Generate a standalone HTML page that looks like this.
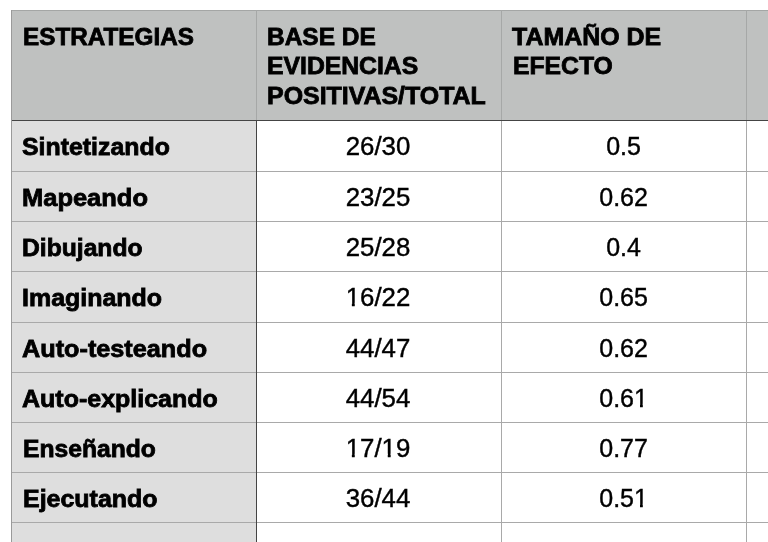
<!DOCTYPE html>
<html><head><meta charset="utf-8">
<style>
html,body{margin:0;padding:0;background:#fff;}
body{width:768px;height:542px;position:relative;overflow:hidden;font-family:"Liberation Sans",sans-serif;color:#000;}
.a{position:absolute;}
.hd{background:#bfc1c0;}
.c1{background:#dedede;}
.hl{left:11px;width:757px;height:1px;background:#a9a9a9;}
.t{position:absolute;white-space:nowrap;font-size:25px;line-height:30px;transform-origin:0 0;}
.b{font-weight:bold;font-size:24.0px;-webkit-text-stroke:0.8px #000;}
.r{font-size:25px;-webkit-text-stroke:0.4px #000;}
.ctr{text-align:center;transform-origin:50% 0;}
.o{display:inline-block;clip-path:polygon(0 0,100% 0,100% 69.5%,63% 69.5%,63% 100%,43.2% 100%,43.2% 69.5%,0 69.5%);}
</style></head><body>
<div class="a hd" style="left:11px;top:10px;width:757px;height:110px;"></div>
<div class="a c1" style="left:11px;top:121px;width:245px;height:421px;"></div>
<div class="a" style="left:11px;top:10px;width:757px;height:1px;background:#a4a6a5;"></div>
<div class="a" style="left:11px;top:120px;width:757px;height:1px;background:#444444;"></div>
<div class="a hl" style="top:171px;"></div>
<div class="a hl" style="top:221px;"></div>
<div class="a hl" style="top:271px;"></div>
<div class="a hl" style="top:322px;"></div>
<div class="a hl" style="top:372px;"></div>
<div class="a hl" style="top:422px;"></div>
<div class="a hl" style="top:472px;"></div>
<div class="a hl" style="top:522px;"></div>
<div class="a" style="left:11px;top:10px;width:1px;height:532px;background:#9a9a9a;"></div>
<div class="a" style="left:256px;top:10px;width:1px;height:110px;background:#a6a8a7;"></div>
<div class="a" style="left:256px;top:120px;width:1px;height:422px;background:#444444;"></div>
<div class="a" style="left:501px;top:10px;width:1px;height:110px;background:#a6a8a7;"></div>
<div class="a" style="left:501px;top:121px;width:1px;height:421px;background:#a9a9a9;"></div>
<div class="a" style="left:746px;top:10px;width:1px;height:110px;background:#a6a8a7;"></div>
<div class="a" style="left:746px;top:121px;width:1px;height:421px;background:#a9a9a9;"></div>
<div class="t b" style="left:22.72px;top:22.00px;transform:scaleX(1.0117);">ESTRATEGIAS</div>
<div class="t b" style="left:266.92px;top:22.00px;transform:scaleX(1.0190);">BASE DE</div>
<div class="t b" style="left:267.16px;top:51.00px;transform:scaleX(1.0308);">EVIDENCIAS</div>
<div class="t b" style="left:267.12px;top:81.00px;transform:scaleX(1.0386);">POSITIVAS/TOTAL</div>
<div class="t b" style="left:511.90px;top:22.00px;transform:scaleX(1.0387);">TAMAÑO DE</div>
<div class="t b" style="left:512.82px;top:51.00px;transform:scaleX(1.0302);">EFECTO</div>
<div class="t b" style="left:22.21px;top:132.00px;transform:scaleX(1.0363);">Sintetizando</div>
<div class="t b" style="left:22.34px;top:183.00px;transform:scaleX(1.0614);">Mapeando</div>
<div class="t b" style="left:22.02px;top:233.00px;transform:scaleX(1.0273);">Dibujando</div>
<div class="t b" style="left:21.94px;top:283.00px;transform:scaleX(1.0399);">Imaginando</div>
<div class="t b" style="left:21.71px;top:334.00px;transform:scaleX(1.0518);">Auto-testeando</div>
<div class="t b" style="left:21.78px;top:384.00px;transform:scaleX(1.0415);">Auto-explicando</div>
<div class="t b" style="left:22.56px;top:434.00px;transform:scaleX(1.0273);">Enseñando</div>
<div class="t b" style="left:22.50px;top:484.00px;transform:scaleX(1.0405);">Ejecutando</div>
<div class="t r ctr" style="left:256.2px;width:244px;top:131px;transform:scaleX(1.033);">26/30</div>
<div class="t r ctr" style="left:256.2px;width:244px;top:182px;transform:scaleX(1.033);">23/25</div>
<div class="t r ctr" style="left:256.2px;width:244px;top:232px;transform:scaleX(1.033);">25/28</div>
<div class="t r ctr" style="left:256.2px;width:244px;top:282px;transform:scaleX(1.033);"><span class="o">1</span>6/22</div>
<div class="t r ctr" style="left:256.2px;width:244px;top:333px;transform:scaleX(1.033);">44/47</div>
<div class="t r ctr" style="left:256.2px;width:244px;top:383px;transform:scaleX(1.033);">44/54</div>
<div class="t r ctr" style="left:256.2px;width:244px;top:433px;transform:scaleX(1.033);"><span class="o">1</span>7/<span class="o">1</span>9</div>
<div class="t r ctr" style="left:256.2px;width:244px;top:483px;transform:scaleX(1.033);">36/44</div>
<div class="t r ctr" style="left:501.6px;width:244px;top:131px;">0.5</div>
<div class="t r ctr" style="left:501.6px;width:244px;top:182px;">0.62</div>
<div class="t r ctr" style="left:501.6px;width:244px;top:232px;">0.4</div>
<div class="t r ctr" style="left:501.6px;width:244px;top:282px;">0.65</div>
<div class="t r ctr" style="left:501.6px;width:244px;top:333px;">0.62</div>
<div class="t r ctr" style="left:501.6px;width:244px;top:383px;">0.6<span class="o">1</span></div>
<div class="t r ctr" style="left:501.6px;width:244px;top:433px;">0.77</div>
<div class="t r ctr" style="left:501.6px;width:244px;top:483px;">0.5<span class="o">1</span></div>
</body></html>
